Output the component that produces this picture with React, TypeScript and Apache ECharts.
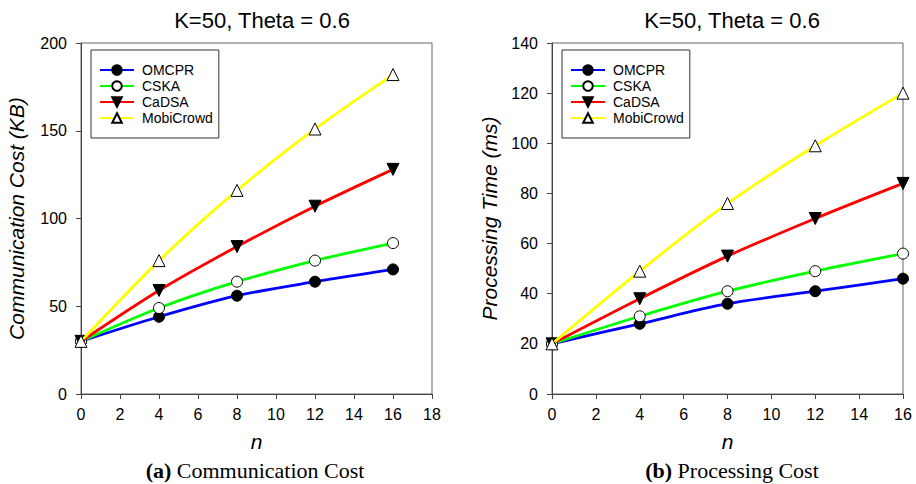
import React, { useEffect, useRef } from "react";
import * as echarts from "echarts";

const seriesNames = ["OMCPR", "CSKA", "CaDSA", "MobiCrowd"];
const nValues = [0, 4, 8, 12, 16];

const commOMCPR = [30, 44, 56, 64, 71];
const commCSKA = [30, 49, 64, 76, 86];
const commCaDSA = [30, 59, 84, 107, 128];
const commMobiCrowd = [30, 76, 116, 151, 182];

const procOMCPR = [20, 28, 36, 41, 46];
const procCSKA = [20, 31, 41, 49, 56];
const procCaDSA = [20, 38, 55, 70, 84];
const procMobiCrowd = [20, 49, 76, 99, 120];

const lineColors = ["#0000ff", "#00ff00", "#ff0000", "#ffff00"];
const symbols = ["circle", "circle", "triangle", "triangle"];
const symbolFills = ["#000000", "#ffffff", "#000000", "#ffffff"];
const symbolRotates = [0, 0, 180, 0];
const symbolSizes = [11, 11, 12, 12];

export default function App() {
  const ref = useRef<HTMLDivElement>(null);
  useEffect(() => {
    if (!ref.current) return;
    const chart = echarts.init(ref.current, null, { renderer: "svg" });
    const font = "Arial, 'Liberation Sans', sans-serif";
    const serif = "'Liberation Serif', 'Times New Roman', serif";
    const comm = [commOMCPR, commCSKA, commCaDSA, commMobiCrowd];
    const proc = [procOMCPR, procCSKA, procCaDSA, procMobiCrowd];

    const mkSeries = (data: number[][], idx: number) =>
      data.map((vals, i) => ({
        name: seriesNames[i],
        type: "line",
        xAxisIndex: idx,
        yAxisIndex: idx,
        data: vals.map((v, j) => [nValues[j], v]),
        smooth: 0.3,
        symbol: symbols[i],
        symbolSize: symbolSizes[i],
        symbolRotate: symbolRotates[i],
        z: 2 + i,
        lineStyle: { color: lineColors[i], width: 2.8 },
        itemStyle: {
          color: symbolFills[i],
          borderColor: "#000",
          borderWidth: 1,
        },
      }));

    const mkYAxis = (idx: number, max: number, interval: number, name: string) => ({
      gridIndex: idx,
      type: "value",
      min: 0,
      max,
      interval,
      name,
      nameLocation: "middle",
      nameGap: idx === 0 ? 54 : 52,
      nameTextStyle: { fontFamily: font, fontSize: 21, fontStyle: "italic", color: "#000" },
      axisLine: { show: true, lineStyle: { color: "#444", width: 1 } },
      axisTick: { show: true, length: 5, lineStyle: { color: "#444" } },
      axisLabel: { fontFamily: font, fontSize: 16, color: "#000", margin: 14 },
      splitLine: { show: false },
    });

    const mkXAxis = (idx: number, max: number) => ({
      gridIndex: idx,
      type: "value",
      min: 0,
      max,
      interval: 2,
      name: "n",
      nameLocation: "middle",
      nameGap: 37,
      nameTextStyle: { fontFamily: font, fontSize: 21, fontStyle: "italic", color: "#000" },
      axisLine: { show: true, onZero: false, lineStyle: { color: "#444", width: 1 } },
      axisTick: { show: true, length: 5, lineStyle: { color: "#444" } },
      axisLabel: { fontFamily: font, fontSize: 16, color: "#000", margin: 12 },
      splitLine: { show: false },
    });

    const mkLegend = (left: number) => ({
      orient: "vertical",
      left,
      top: 50,
      padding: [13, 6, 13, 8],
      itemGap: 2,
      itemWidth: 34,
      itemHeight: 12,
      borderColor: "#333",
      borderWidth: 1,
      backgroundColor: "#fff",
      data: seriesNames,
      selectedMode: false,
      textStyle: { fontFamily: font, fontSize: 14, color: "#000", padding: [0, 0, 0, 3] },
    });

    const caption = (text: string, x: number) => ({
      text,
      left: x,
      top: 454,
      textAlign: "center",
      textStyle: {
        rich: {
          b: { fontFamily: serif, fontSize: 22, fontWeight: "bold", color: "#000" },
          r: { fontFamily: serif, fontSize: 22, fontWeight: "normal", color: "#000" },
        },
      },
    });

    chart.setOption({
      animation: false,
      backgroundColor: "#fff",
      title: [
        {
          text: "K=50, Theta = 0.6",
          left: 257,
          top: 4,
          textAlign: "center",
          textStyle: { fontFamily: font, fontSize: 22, fontWeight: "normal", color: "#000" },
        },
        {
          text: "K=50, Theta = 0.6",
          left: 727,
          top: 4,
          textAlign: "center",
          textStyle: { fontFamily: font, fontSize: 22, fontWeight: "normal", color: "#000" },
        },
        caption("{b|(a)}{r| Communication Cost}", 250),
        caption("{b|(b)}{r| Processing Cost}", 727),
      ],
      legend: [mkLegend(91), mkLegend(562)],
      grid: [
        { left: 81, top: 43, width: 351, height: 351, show: true, borderColor: "#666", borderWidth: 1, containLabel: false },
        { left: 552, top: 43, width: 351, height: 351, show: true, borderColor: "#666", borderWidth: 1, containLabel: false },
      ],
      xAxis: [mkXAxis(0, 18), mkXAxis(1, 16)],
      yAxis: [
        mkYAxis(0, 200, 50, "Communication Cost (KB)"),
        mkYAxis(1, 140, 20, "Processing Time (ms)"),
      ],
      series: [...mkSeries(comm, 0), ...mkSeries(proc, 1)],
    });
    return () => chart.dispose();
  }, []);
  return <div ref={ref} style={{ width: 916, height: 484, position: "absolute", left: 0, top: 0 }} />;
}
